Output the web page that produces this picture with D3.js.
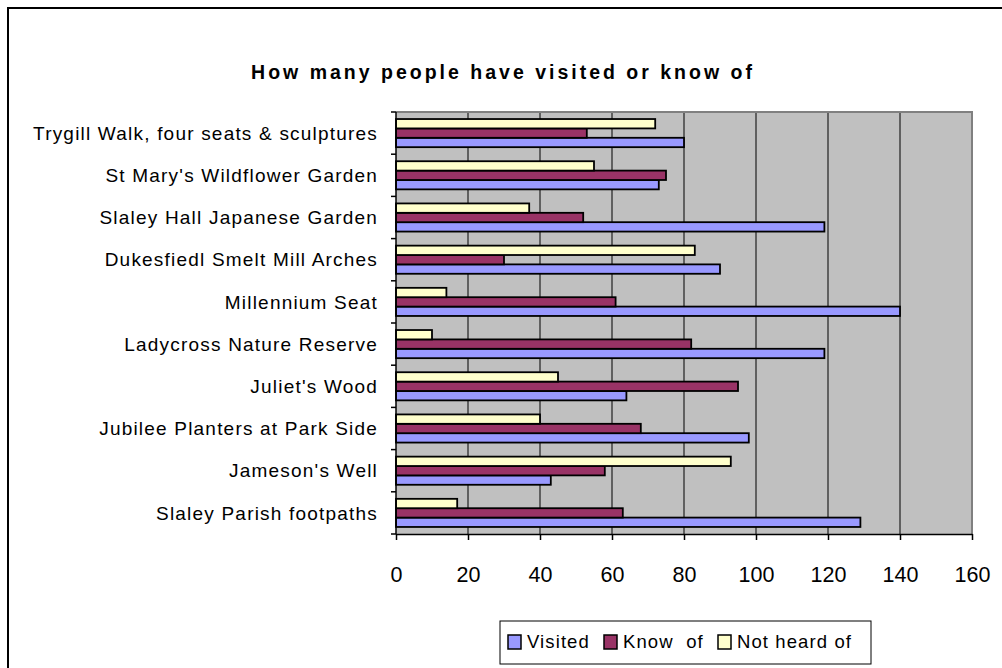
<!DOCTYPE html>
<html><head><meta charset="utf-8">
<script src="https://cdn.jsdelivr.net/npm/d3@7"></script>
<style>body{margin:0;background:#fff;} svg{display:block;font-family:Arial,"Liberation Sans",sans-serif;}</style>
</head><body>
<script>
const categories = ["Trygill Walk, four seats & sculptures","St Mary's Wildflower Garden","Slaley Hall Japanese Garden","Dukesfiedl Smelt Mill Arches","Millennium Seat","Ladycross Nature Reserve","Juliet's Wood","Jubilee Planters at Park Side","Jameson's Well","Slaley Parish footpaths"];
const visited   = [80, 73, 119, 90, 140, 119, 64, 98, 43, 129];
const knowOf    = [53, 75, 52, 30, 61, 82, 95, 68, 58, 63];
const notHeard  = [72, 55, 37, 83, 14, 10, 45, 40, 93, 17];
const seriesNames = ["Visited", "Know  of", "Not heard of"];
const seriesColors = ["#9999FF", "#993366", "#FFFFCC"];
const xTicks = [0,20,40,60,80,100,120,140,160];

const W = 1002, H = 668;
const svg = d3.select("body").append("svg").attr("width", W).attr("height", H);
svg.append("rect").attr("x",8).attr("y",8).attr("width",1000).attr("height",670).attr("fill","#fff").attr("stroke","#000").attr("stroke-width",2);

const L = 396, R = 972, T = 112, B = 534;
const x = d3.scaleLinear().domain([0,160]).range([L,R]);
const y = d3.scaleBand().domain(categories).range([T,B]);
const inner = d3.scaleBand().domain([2,1,0]).range([0, y.bandwidth()]).paddingInner(0).paddingOuter(0.75);

svg.append("text").attr("x",503).attr("y",79).attr("text-anchor","middle")
  .attr("font-size",19.5).attr("font-weight","bold").attr("letter-spacing",3)
  .text("How many people have visited or know of");

svg.append("rect").attr("x",L).attr("y",T).attr("width",R-L).attr("height",B-T).attr("fill","#C0C0C0");
svg.append("g").selectAll("line").data(xTicks.slice(1,-1)).join("line")
  .attr("x1",d=>x(d)).attr("x2",d=>x(d)).attr("y1",T).attr("y2",B).attr("stroke","#000").attr("stroke-width",1);
svg.append("path").attr("d",`M${L},${T}H${R}V${B}`).attr("fill","none").attr("stroke","#808080").attr("stroke-width",2);

const series = [visited, knowOf, notHeard];
series.forEach((vals, si) => {
  svg.append("g").selectAll("rect").data(categories).join("rect")
    .attr("x", L)
    .attr("y", (c) => y(c) + inner(si))
    .attr("width", (c,i) => x(vals[i]) - L)
    .attr("height", inner.bandwidth())
    .attr("fill", seriesColors[si]).attr("stroke","#000").attr("stroke-width",1.8);
});

const ya = svg.append("g").attr("transform",`translate(${L},0)`);
ya.append("line").attr("x1",0).attr("x2",0).attr("y1",T).attr("y2",B).attr("stroke","#000").attr("stroke-width",1.5);
ya.selectAll("line.t").data(d3.range(categories.length+1)).join("line").attr("class","t")
  .attr("x1",-5).attr("x2",0).attr("y1",i=>T+i*y.step()).attr("y2",i=>T+i*y.step()).attr("stroke","#000").attr("stroke-width",1.5);
ya.selectAll("text").data(categories).join("text")
  .attr("x",-18).attr("y",c=>y(c)+y.bandwidth()/2).attr("dy","0.35em").attr("text-anchor","end")
  .attr("font-size",19).attr("letter-spacing",1.2).text(d=>d);

const xa = svg.append("g").attr("transform",`translate(0,${B})`).call(d3.axisBottom(x).tickValues(xTicks).tickSize(6).tickPadding(27).tickSizeOuter(0));
xa.select(".domain").attr("stroke","#000").attr("stroke-width",1.5);
xa.selectAll(".tick line").attr("stroke","#000").attr("stroke-width",1.5);
xa.selectAll("text").attr("font-size",21.5).attr("fill","#000").attr("font-family","Arial,'Liberation Sans',sans-serif");

const lg = svg.append("g");
lg.append("rect").attr("x",500).attr("y",621).attr("width",371).attr("height",43).attr("fill","#fff").attr("stroke","#000").attr("stroke-width",1);
const lx = [508, 604, 718];
seriesNames.forEach((n,i)=>{
  lg.append("rect").attr("x",lx[i]).attr("y",635).attr("width",13).attr("height",14).attr("fill",seriesColors[i]).attr("stroke","#000").attr("stroke-width",1.5);
  lg.append("text").attr("x",lx[i]+19).attr("y",648).attr("font-size",18.5).attr("letter-spacing",1.1).style("white-space","pre").text(n);
});
</script>
</body></html>
